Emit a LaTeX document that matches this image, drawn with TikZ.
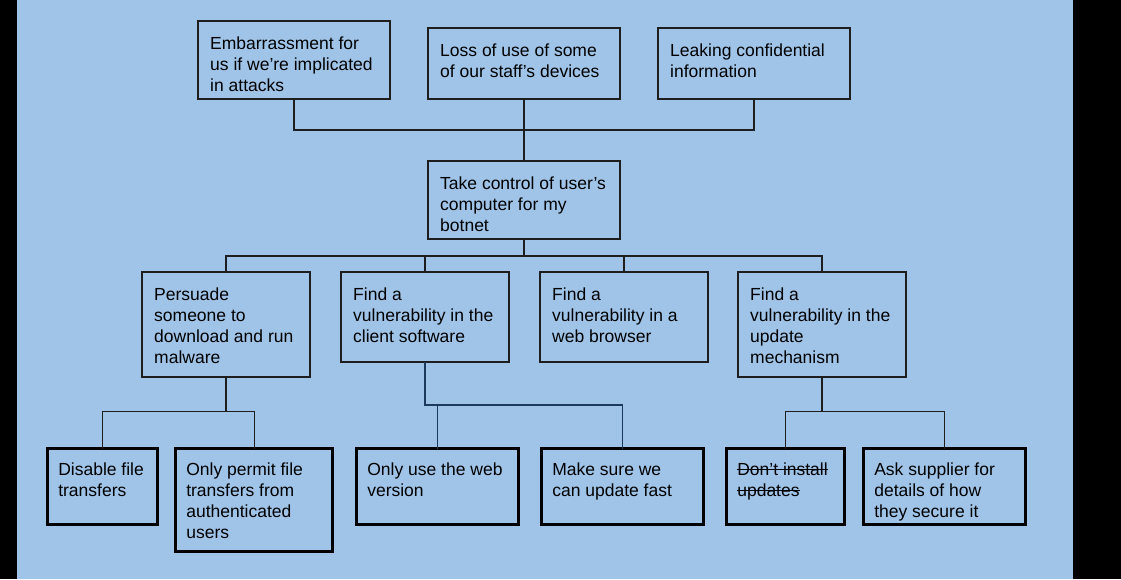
\documentclass[tikz,border=0pt]{standalone}
\usepackage{fontspec}
\setmainfont{Liberation Sans}
\newcommand\mystrike[1]{\setbox0\hbox{#1}\rlap{\rule[0.33em]{\wd0}{1.1pt}}\box0}
\definecolor{bgblue}{RGB}{160,196,232}
\definecolor{navyline}{RGB}{28,58,92}
\definecolor{edge}{RGB}{30,30,30}
\begin{document}
\begin{tikzpicture}[x=1pt,y=-1pt,
  thinbox/.style={draw=edge,line width=1.2pt,inner sep=0pt,outer sep=0pt,anchor=north west},
  thickbox/.style={draw=black,line width=3.2pt,inner sep=0pt,outer sep=0pt,anchor=north west},
  txt/.style={anchor=north west,inner sep=0pt,align=left,text=black,
     font=\fontsize{17.5}{20.9}\selectfont},
  conn/.style={draw=edge,line width=1.2pt},
  nconn/.style={draw=navyline,line width=1.2pt}]
\useasboundingbox (0,0) rectangle (1121,579);
\fill[black] (0,0) rectangle (1121,579);
\fill[bgblue] (17,0) rectangle (1073,579);
% level 1
\node[thinbox,minimum width=192pt,minimum height=78pt] (A) at (198,21) {};
\node[thinbox,minimum width=192pt,minimum height=71pt] (B) at (428,28) {};
\node[thinbox,minimum width=192pt,minimum height=71pt] (C) at (658,28) {};
% level 2
\node[thinbox,minimum width=192pt,minimum height=78pt] (M) at (428,161) {};
% level 3
\node[thinbox,minimum width=168pt,minimum height=105pt] (P) at (142,272) {};
\node[thinbox,minimum width=168pt,minimum height=90pt] (F1) at (341,272) {};
\node[thinbox,minimum width=168pt,minimum height=90pt] (F2) at (540,272) {};
\node[thinbox,minimum width=168pt,minimum height=105pt] (F3) at (738,272) {};
% level 4
\node[thickbox,minimum width=110pt,minimum height=76pt] (D1) at (47.6,448.6) {};
\node[thickbox,minimum width=157pt,minimum height=103pt] (D2) at (175.6,448.6) {};
\node[thickbox,minimum width=162pt,minimum height=76pt] (W1) at (356.6,448.6) {};
\node[thickbox,minimum width=162pt,minimum height=76pt] (W2) at (541.6,448.6) {};
\node[thickbox,minimum width=118pt,minimum height=76pt] (U1) at (726.6,448.6) {};
\node[thickbox,minimum width=162pt,minimum height=76pt] (U2) at (863.6,448.6) {};
% texts
\node[txt] (tA) at ([shift={(12,13.5)}]A.north west) {\strut Embarrassment for\\us if we’re implicated\\in attacks};
\node[txt] (tB) at ([shift={(12,13.5)}]B.north west) {\strut Loss of use of some\\of our staff’s devices};
\node[txt] (tC) at ([shift={(12,13.5)}]C.north west) {\strut Leaking confidential\\information};
\node[txt] (tM) at ([shift={(12,13.5)}]M.north west) {\strut Take control of user’s\\computer for my\\botnet};
\node[txt] (tP) at ([shift={(12,13.5)}]P.north west) {\strut Persuade\\someone to\\download and run\\malware};
\node[txt] (tF1) at ([shift={(12,13.5)}]F1.north west) {\strut Find a\\vulnerability in the\\client software};
\node[txt] (tF2) at ([shift={(12,13.5)}]F2.north west) {\strut Find a\\vulnerability in a\\web browser};
\node[txt] (tF3) at ([shift={(12,13.5)}]F3.north west) {\strut Find a\\vulnerability in the\\update\\mechanism};
\node[txt] (tD1) at ([shift={(10.5,12.5)}]D1.north west) {\strut Disable file\\transfers};
\node[txt] (tD2) at ([shift={(10.5,12.5)}]D2.north west) {\strut Only permit file\\transfers from\\authenticated\\users};
\node[txt] (tW1) at ([shift={(10.5,12.5)}]W1.north west) {\strut Only use the web\\version};
\node[txt] (tW2) at ([shift={(10.5,12.5)}]W2.north west) {\strut Make sure we\\can update fast};
\node[txt] (tU1) at ([shift={(10.5,12.5)}]U1.north west) {\strut \mystrike{Don’t install}\\\mystrike{updates}};
\node[txt] (tU2) at ([shift={(10.5,12.5)}]U2.north west) {\strut Ask supplier for\\details of how\\they secure it};
% connectors
\draw[conn] (A.south) -- ++(0,31) -| (C.south);
\draw[conn] (B.south) -- (M.north);
\draw[conn] (M.south) -- ++(0,17);
\draw[conn] (P.north) -- ++(0,-16) -| (F3.north);
\draw[conn] (F1.north) -- ++(0,-16);
\draw[conn] (F2.north) -- ++(0,-16);
\draw[conn] (P.south) -- ++(0,34);
\draw[conn] (D1.north) -- ++(0,-37) -| (D2.north);
\draw[nconn] (F1.south) -- ++(0,43) -| (W2.north);
\draw[nconn] (W1.north) -- ++(0,-43.6);
\draw[conn] (F3.south) -- ++(0,34);
\draw[conn] (U1.north) -- ++(0,-37) -| (U2.north);
\end{tikzpicture}
\end{document}
